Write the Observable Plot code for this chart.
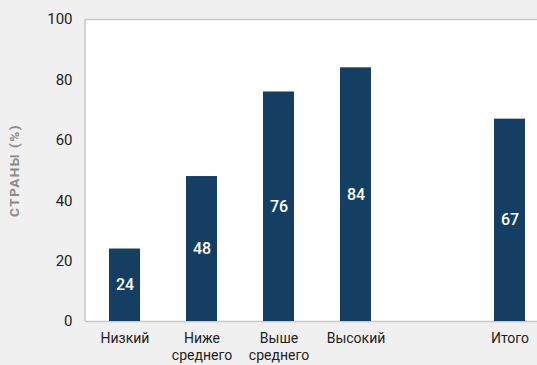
<!DOCTYPE html>
<html>
<head>
<meta charset="utf-8">
<script src="https://cdn.jsdelivr.net/npm/d3@7"></script>
<script src="https://cdn.jsdelivr.net/npm/@observablehq/plot@0.6"></script>
<style>
  html, body { margin: 0; padding: 0; background: #f0f0f0; overflow: hidden; }
  #chart { width: 537px; height: 365px; }
  .ylab { letter-spacing: 1.5px; }
</style>
</head>
<body>
<div id="chart"></div>
<script>
const categories = ["Низкий", "Ниже\nсреднего", "Выше\nсреднего", "Высокий", " ", "Итого"];
const barCategories = ["Низкий", "Ниже\nсреднего", "Выше\nсреднего", "Высокий", "Итого"];
const values = [24, 48, 76, 84, 67];
const yTicks = [0, 20, 40, 60, 80, 100];
const yLabel = "СТРАНЫ (%)";

const data = barCategories.map((c, i) => ({cat: c, value: values[i]}));

const chart = Plot.plot({
  width: 537,
  height: 365,
  marginLeft: 85,
  marginRight: 0,
  marginTop: 19,
  marginBottom: 44,
  style: {background: "transparent", fontFamily: "Roboto, sans-serif", fontSize: "14px", color: "#222"},
  x: {domain: categories, range: [84.2, 549.8], paddingInner: 0.6, paddingOuter: 0.3},
  y: {domain: [0, 100], ticks: yTicks},
  marks: [
    Plot.frame({fill: "white", stroke: null}),
    Plot.ruleY([100], {stroke: "#c8c8c8", strokeWidth: 1.5}),
    Plot.ruleY([0], {stroke: "#c8c8c8", strokeWidth: 1.5}),
    Plot.axisX({tickSize: 0, tickPadding: 10, fontSize: 14, label: null, lineHeight: 1.2}),
    Plot.axisY({ticks: yTicks, tickSize: 0, tickPadding: 13, fontSize: 15, label: yLabel, labelAnchor: "center", labelArrow: "none", labelOffset: 76}),
    Plot.barY(data, {x: "cat", y: "value", fill: "#143f63"}),
    Plot.text(data, {x: "cat", y: d => d.value / 2, text: d => String(d.value), fill: "white", fontWeight: 500, fontSize: 16})
  ]
});

// left border of the plot area
const svg = d3.select(chart);
svg.append("line")
  .attr("x1", 85).attr("x2", 85).attr("y1", 19).attr("y2", 321)
  .attr("stroke", "#c8c8c8").attr("stroke-width", 1.5);

// style the y-axis label
svg.selectAll('[aria-label="y-axis label"] text')
  .attr("class", "ylab")
  .attr("fill", "#8a8a8a")
  .attr("font-weight", "bold")
  .attr("font-size", 13.5);

document.getElementById("chart").appendChild(chart);
</script>
</body>
</html>
